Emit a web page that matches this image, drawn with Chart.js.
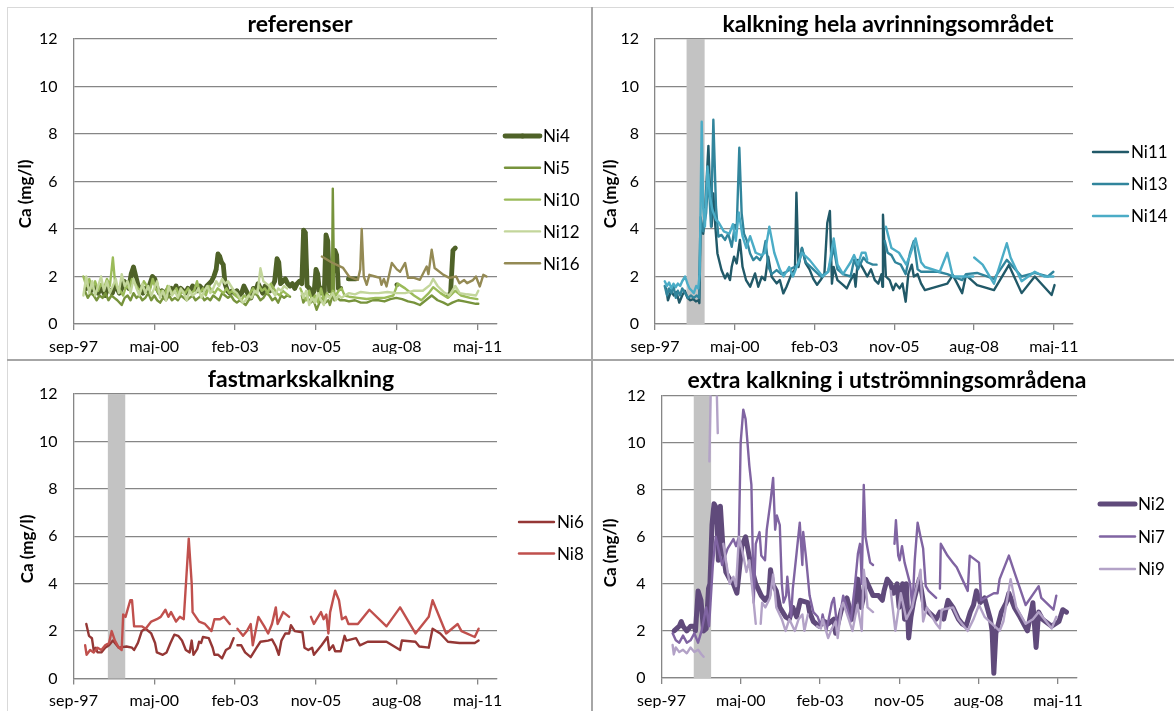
<!DOCTYPE html>
<html>
<head>
<meta charset="utf-8">
<script src="https://cdn.jsdelivr.net/npm/chart.js@4.4.1/dist/chart.umd.min.js"></script>
<style>
  html, body { margin: 0; padding: 0; background: #fff; }
  #wrap { position: relative; width: 1174px; height: 711px; overflow: hidden; background: #fff; }
  #wrap canvas { position: absolute; left: 0; top: 0; }
  .rule { position: absolute; }
</style>
</head>
<body>
<div id="wrap">
  <div class="rule" style="left:7px;top:7px;width:1167px;height:1px;background:#d9d9d9"></div>
  <div class="rule" style="left:7px;top:7px;width:1px;height:704px;background:#d9d9d9"></div>
  <div class="rule" style="left:591px;top:7px;width:2px;height:704px;background:#a6a6a6"></div>
  <div class="rule" style="left:7px;top:359px;width:1167px;height:2px;background:#a6a6a6"></div>
  <canvas id="cRef" width="1174" height="711"></canvas>
  <canvas id="cHela" width="1174" height="711"></canvas>
  <canvas id="cFast" width="1174" height="711"></canvas>
  <canvas id="cExtra" width="1174" height="711"></canvas>
</div>
<script>
// Calcium (mg/l) per station; x = decimal year, [year, null] breaks the line.
const ni4 = [[1998.10,1.5],[1998.18,1.7],[1998.26,1.4],[1998.34,1.6],[1998.42,1.5],[1998.5,1.3],[1998.58,1.5],[1998.66,1.4],[1998.74,1.2],[1998.82,1.5],[1998.9,1.4],[1998.98,1.3],[1999.06,1.6],[1999.14,1.5],[1999.22,1.3],[1999.3,1.5],[1999.38,1.8],[1999.46,1.7],[1999.54,1.5],[1999.62,2.1],[1999.7,2.4],[1999.78,2.0],[1999.86,1.6],[1999.94,1.5],[2000.02,1.3],[2000.1,1.5],[2000.18,1.4],[2000.26,1.7],[2000.34,2.0],[2000.42,1.9],[2000.5,1.5],[2000.58,1.3],[2000.66,1.4],[2000.74,1.2],[2000.82,1.4],[2000.9,1.3],[2000.98,1.5],[2001.06,1.4],[2001.14,1.6],[2001.22,1.3],[2001.3,1.5],[2001.38,1.4],[2001.46,1.3],[2001.54,1.5],[2001.62,1.4],[2001.7,1.6],[2001.78,1.5],[2001.86,1.4],[2001.94,1.6],[2002.02,1.5],[2002.1,1.4],[2002.18,1.6],[2002.26,1.7],[2002.34,1.8],[2002.42,2.0],[2002.5,2.3],[2002.56,2.95],[2002.62,2.85],[2002.68,2.6],[2002.74,2.5],[2002.8,1.7],[2002.88,1.4],[2002.96,1.3],[2003.04,1.4],[2003.12,1.3],[2003.2,1.4],[2003.28,1.2],[2003.36,1.3],[2003.44,1.6],[2003.52,1.4],[2003.6,1.2],[2003.68,1.1],[2003.76,1.5],[2003.84,1.4],[2003.92,1.7],[2004.0,1.5],[2004.08,1.3],[2004.16,1.6],[2004.24,1.5],[2004.32,1.4],[2004.4,1.6],[2004.48,1.8],[2004.56,2.75],[2004.62,2.6],[2004.68,1.7],[2004.76,1.8],[2004.84,1.9],[2004.92,1.7],[2005.0,1.6],[2005.08,1.7],[2005.16,1.5],[2005.24,1.7],[2005.32,1.8],[2005.4,1.7],[2005.46,3.95],[2005.52,3.85],[2005.58,1.6],[2005.66,1.5],[2005.74,1.2],[2005.82,1.4],[2005.88,2.3],[2005.94,2.1],[2006.0,1.3],[2006.08,1.5],[2006.16,1.2],[2006.22,3.75],[2006.28,3.5],[2006.34,1.4],[2006.42,1.8],[2006.52,3.1],[2006.58,2.9],[2006.64,1.5],[2006.72,1.5],[2006.8,null],[2006.98,1.9],[2007.1,1.9],[2007.24,1.9],[2007.3,null],[2008.62,1.65],[2008.7,null],[2010.36,1.2],[2010.44,1.3],[2010.52,3.1],[2010.6,3.2]];
const ni5 = [[1998.05,1.4],[1998.15,1.1],[1998.25,1.3],[1998.35,1.2],[1998.45,1.0],[1998.55,1.2],[1998.65,1.1],[1998.75,1.3],[1998.85,1.0],[1998.95,1.2],[1999.05,1.1],[1999.15,1.0],[1999.3,0.8],[1999.4,1.1],[1999.5,1.2],[1999.6,1.0],[1999.7,1.3],[1999.8,1.1],[1999.9,1.2],[2000.0,1.0],[2000.1,1.1],[2000.2,1.3],[2000.3,1.0],[2000.4,1.2],[2000.5,1.0],[2000.6,0.9],[2000.7,1.1],[2000.8,1.0],[2000.9,1.2],[2001.0,1.0],[2001.1,1.1],[2001.2,1.0],[2001.3,1.2],[2001.4,1.1],[2001.5,1.0],[2001.6,1.1],[2001.7,1.2],[2001.8,1.0],[2001.9,1.1],[2002.0,1.2],[2002.1,1.0],[2002.2,1.1],[2002.3,1.0],[2002.4,1.2],[2002.5,1.1],[2002.6,1.0],[2002.7,1.3],[2002.8,1.2],[2002.9,1.1],[2003.0,1.2],[2003.1,1.0],[2003.2,0.9],[2003.3,1.0],[2003.4,0.9],[2003.5,0.8],[2003.6,1.0],[2003.7,1.1],[2003.8,1.3],[2003.9,1.2],[2004.0,1.0],[2004.1,1.1],[2004.2,1.3],[2004.3,1.2],[2004.4,1.0],[2004.5,1.1],[2004.6,0.9],[2004.7,1.2],[2004.8,1.1],[2004.9,1.2],[2005.0,1.15],[2005.2,null],[2005.4,1.2],[2005.45,0.9],[2005.5,1.0],[2005.6,1.1],[2005.7,0.9],[2005.8,1.0],[2005.9,0.6],[2006.0,0.9],[2006.1,1.1],[2006.2,0.9],[2006.3,1.0],[2006.35,0.8],[2006.42,1.1],[2006.45,5.7],[2006.5,1.0],[2006.6,1.1],[2006.7,1.0],[2006.85,1.0],[2007.0,0.95],[2007.2,1.0],[2007.4,0.9],[2007.6,0.9],[2007.8,1.0],[2008.0,1.0],[2008.2,0.95],[2008.4,1.05],[2008.6,1.1],[2008.8,1.05],[2009.0,0.95],[2009.2,0.9],[2009.4,0.8],[2009.6,1.0],[2009.8,1.2],[2010.0,1.0],[2010.2,0.9],[2010.35,0.8],[2010.5,0.9],[2010.7,1.0],[2010.9,0.95],[2011.1,0.9],[2011.3,0.85],[2011.38,0.85]];
const ni10 = [[1998.0,2.0],[1998.1,1.6],[1998.2,1.9],[1998.3,1.5],[1998.4,1.8],[1998.5,1.4],[1998.6,1.7],[1998.7,1.5],[1998.8,1.9],[1998.9,1.6],[1999.0,2.8],[1999.07,1.8],[1999.15,1.5],[1999.25,1.4],[1999.35,1.2],[1999.45,1.6],[1999.55,1.5],[1999.65,1.9],[1999.75,1.7],[1999.85,1.5],[1999.95,1.4],[2000.05,1.8],[2000.15,1.6],[2000.25,1.4],[2000.35,1.9],[2000.45,1.5],[2000.55,1.3],[2000.65,1.4],[2000.75,1.2],[2000.85,1.6],[2000.95,1.4],[2001.05,1.3],[2001.15,1.5],[2001.25,1.2],[2001.35,1.4],[2001.45,1.3],[2001.55,1.5],[2001.65,1.3],[2001.75,1.4],[2001.85,1.8],[2001.95,1.3],[2002.05,1.5],[2002.15,1.2],[2002.25,1.6],[2002.35,1.4],[2002.45,1.3],[2002.55,1.5],[2002.65,1.4],[2002.75,1.3],[2002.85,1.5],[2002.95,1.3],[2003.05,1.4],[2003.15,1.2],[2003.25,1.1],[2003.35,1.0],[2003.45,1.2],[2003.55,1.1],[2003.65,1.3],[2003.75,1.5],[2003.85,1.3],[2003.95,1.6],[2004.05,1.4],[2004.15,1.5],[2004.25,1.3],[2004.35,1.7],[2004.45,1.5],[2004.55,1.3],[2004.65,1.2],[2004.75,1.4],[2004.85,1.3],[2004.95,1.2],[2005.15,null],[2005.35,1.5],[2005.45,1.2],[2005.55,1.0],[2005.65,1.4],[2005.75,1.0],[2005.85,1.2],[2005.95,0.9],[2006.05,1.5],[2006.15,1.0],[2006.25,1.3],[2006.35,1.1],[2006.45,1.4],[2006.55,1.2],[2006.65,1.4],[2006.75,1.5],[2006.85,1.2],[2007.0,1.15],[2007.3,1.1],[2007.6,1.05],[2007.9,1.1],[2008.2,1.1],[2008.5,1.2],[2008.65,1.7],[2008.9,1.5],[2009.2,1.2],[2009.45,1.0],[2009.7,1.3],[2009.85,1.55],[2010.1,1.3],[2010.35,1.1],[2010.6,1.4],[2010.8,1.2],[2011.1,1.1],[2011.35,1.05]];
const ni12 = [[1998.0,1.2],[1998.1,2.0],[1998.2,1.3],[1998.3,1.8],[1998.4,1.2],[1998.5,1.6],[1998.6,2.0],[1998.7,1.4],[1998.8,1.8],[1998.9,1.3],[1999.0,1.6],[1999.1,1.9],[1999.2,1.3],[1999.3,2.1],[1999.4,1.6],[1999.5,1.8],[1999.6,1.3],[1999.7,1.9],[1999.8,1.5],[1999.9,1.2],[2000.0,1.7],[2000.1,1.3],[2000.2,1.6],[2000.3,1.2],[2000.4,1.5],[2000.5,1.8],[2000.6,1.1],[2000.7,1.4],[2000.8,1.0],[2000.9,1.6],[2001.0,1.2],[2001.1,1.4],[2001.2,1.1],[2001.3,1.5],[2001.4,1.3],[2001.5,1.0],[2001.6,1.4],[2001.7,1.2],[2001.8,1.3],[2001.9,1.5],[2002.0,1.1],[2002.1,1.4],[2002.2,1.6],[2002.3,1.3],[2002.4,1.5],[2002.5,1.8],[2002.6,1.6],[2002.7,1.9],[2002.8,1.7],[2002.9,1.8],[2003.0,1.6],[2003.1,1.4],[2003.2,1.3],[2003.3,1.1],[2003.4,0.9],[2003.5,1.0],[2003.6,1.2],[2003.7,1.1],[2003.8,1.4],[2003.9,1.3],[2004.0,2.35],[2004.1,1.8],[2004.2,1.7],[2004.3,1.6],[2004.4,1.4],[2004.5,1.2],[2004.6,1.5],[2004.7,1.4],[2004.8,1.6],[2004.9,1.5],[2005.15,null],[2005.4,1.3],[2005.45,1.1],[2005.55,1.4],[2005.65,0.8],[2005.75,1.1],[2005.85,0.9],[2005.95,1.3],[2006.05,1.0],[2006.15,0.8],[2006.25,1.2],[2006.35,1.1],[2006.45,1.3],[2006.55,1.0],[2006.65,1.2],[2006.75,1.1],[2006.85,1.2],[2007.0,1.3],[2007.2,1.25],[2007.4,1.35],[2007.7,1.3],[2008.0,1.3],[2008.3,1.35],[2008.6,1.3],[2008.9,1.3],[2009.2,1.4],[2009.5,1.4],[2009.75,1.65],[2009.85,1.9],[2010.0,1.6],[2010.2,1.35],[2010.4,1.2],[2010.6,1.6],[2010.75,1.3],[2011.0,1.25],[2011.3,1.2],[2011.38,1.4]];
const ni16 = [[2006.08,2.84],[2006.4,2.6],[2006.8,2.36],[2007.0,2.0],[2007.2,1.9],[2007.3,1.86],[2007.38,2.3],[2007.43,4.0],[2007.5,2.0],[2007.6,1.65],[2007.69,2.07],[2007.88,2.0],[2008.05,1.94],[2008.1,1.65],[2008.18,1.9],[2008.27,1.58],[2008.45,2.57],[2008.62,2.3],[2008.73,2.2],[2008.9,2.57],[2009.0,1.94],[2009.18,1.95],[2009.4,1.86],[2009.63,2.42],[2009.69,2.1],[2009.8,3.13],[2009.9,2.36],[2010.2,2.07],[2010.4,1.94],[2010.63,2.0],[2010.74,1.72],[2010.9,1.85],[2011.0,1.72],[2011.2,1.85],[2011.3,2.0],[2011.43,1.58],[2011.55,2.07],[2011.66,2.0]];

const ni11 = [[1998.05,1.5],[1998.11,1.0],[1998.22,1.4],[1998.31,1.2],[1998.4,1.35],[1998.5,0.9],[1998.6,1.2],[1998.69,1.4],[1998.78,1.1],[1998.88,1.0],[1998.98,1.05],[1999.07,0.95],[1999.16,1.0],[1999.19,0.88],[1999.23,4.1],[1999.32,3.8],[1999.38,4.66],[1999.5,7.5],[1999.55,5.78],[1999.61,4.1],[1999.67,5.5],[1999.72,4.4],[1999.81,2.97],[1999.95,2.27],[2000.07,1.92],[2000.15,2.13],[2000.24,1.85],[2000.3,2.41],[2000.38,2.83],[2000.47,2.55],[2000.58,3.54],[2000.67,2.41],[2000.79,1.85],[2000.93,1.57],[2001.1,2.13],[2001.21,1.57],[2001.33,1.99],[2001.44,1.85],[2001.55,2.83],[2001.67,1.99],[2001.84,1.71],[2001.95,1.85],[2002.07,1.29],[2002.18,1.57],[2002.36,2.13],[2002.47,2.3],[2002.52,5.53],[2002.59,2.4],[2002.71,3.2],[2002.84,2.55],[2002.97,2.3],[2003.1,1.9],[2003.23,1.65],[2003.35,1.85],[2003.48,2.1],[2003.58,4.25],[2003.67,4.76],[2003.74,1.7],[2003.8,2.4],[2003.93,1.85],[2004.12,1.65],[2004.25,1.5],[2004.38,1.85],[2004.5,2.1],[2004.55,1.57],[2004.63,2.7],[2004.82,2.3],[2004.95,2.0],[2005.08,2.3],[2005.21,1.85],[2005.33,1.7],[2005.44,2.1],[2005.47,1.57],[2005.49,4.6],[2005.59,2.0],[2005.72,1.85],[2005.84,1.43],[2005.93,1.7],[2006.06,1.5],[2006.16,1.7],[2006.27,0.94],[2006.36,2.1],[2006.48,2.5],[2006.55,2.0],[2006.68,2.1],[2006.8,1.7],[2006.93,1.43],[2007.7,1.7],[2007.89,2.06],[2008.21,1.3],[2008.34,2.06],[2008.72,1.64],[2009.3,1.43],[2009.81,2.48],[2010.25,1.3],[2010.7,2.0],[2011.28,1.22],[2011.38,1.64]];
const ni13 = [[1998.0,1.6],[1998.08,1.2],[1998.15,1.5],[1998.23,1.3],[1998.3,1.6],[1998.38,1.1],[1998.45,1.4],[1998.53,1.2],[1998.6,1.5],[1998.7,1.3],[1998.8,1.1],[1998.9,1.2],[1999.0,1.1],[1999.1,1.2],[1999.18,1.1],[1999.23,4.5],[1999.32,3.9],[1999.42,4.66],[1999.5,6.3],[1999.59,4.1],[1999.67,8.6],[1999.76,4.94],[1999.84,3.68],[1999.95,3.75],[2000.07,3.54],[2000.18,3.8],[2000.3,3.25],[2000.41,4.17],[2000.47,4.0],[2000.56,7.42],[2000.64,4.66],[2000.72,3.8],[2000.81,3.54],[2000.93,2.97],[2001.04,2.69],[2001.15,2.83],[2001.27,2.69],[2001.38,2.97],[2001.46,3.5],[2001.56,2.4],[2001.67,2.1],[2001.84,2.27],[2002.0,2.1],[2002.18,2.2],[2002.3,2.3],[2002.45,2.4],[2002.59,2.5],[2002.71,3.2],[2002.84,2.6],[2003.1,2.3],[2003.35,2.0],[2003.61,2.2],[2003.8,3.2],[2003.93,2.3],[2004.12,2.1],[2004.38,2.0],[2004.5,2.7],[2004.63,2.3],[2004.82,2.8],[2004.95,2.6],[2005.14,2.5],[2005.27,2.5],[2005.4,null],[2005.55,3.5],[2005.65,3.0],[2005.78,2.9],[2005.91,2.6],[2006.1,2.5],[2006.27,2.1],[2006.42,3.0],[2006.55,3.5],[2006.68,2.3],[2006.8,2.2],[2006.93,2.2],[2007.38,2.2],[2007.7,2.1],[2008.21,1.85],[2008.34,2.1],[2008.72,2.15],[2009.3,1.9],[2009.74,2.7],[2010.25,2.0],[2010.7,2.15],[2011.15,2.0],[2011.34,2.2]];
const ni14 = [[1998.0,1.8],[1998.08,1.6],[1998.15,1.75],[1998.23,1.5],[1998.3,1.7],[1998.38,1.55],[1998.45,1.7],[1998.53,1.6],[1998.6,1.8],[1998.7,2.0],[1998.78,1.7],[1998.85,1.5],[1998.93,1.4],[1999.0,1.3],[1999.08,1.6],[1999.15,1.5],[1999.2,2.1],[1999.27,8.52],[1999.32,4.9],[1999.38,4.1],[1999.47,6.63],[1999.55,5.37],[1999.64,4.8],[1999.76,4.38],[1999.84,4.3],[2000.03,3.9],[2000.22,3.8],[2000.34,4.2],[2000.44,3.5],[2000.54,4.7],[2000.67,3.7],[2000.8,3.2],[2000.93,3.7],[2001.12,3.0],[2001.31,2.9],[2001.44,3.0],[2001.59,4.1],[2001.76,3.0],[2001.95,2.3],[2002.08,2.0],[2002.27,2.4],[2002.4,2.0],[2002.59,2.6],[2002.71,3.0],[2002.97,2.7],[2003.23,2.3],[2003.42,2.0],[2003.61,2.2],[2003.8,3.6],[2003.93,2.5],[2004.12,2.1],[2004.38,2.6],[2004.5,2.9],[2004.63,2.5],[2004.76,3.0],[2004.89,3.0],[2004.95,2.7],[2005.2,null],[2005.59,4.1],[2005.78,3.2],[2006.04,3.0],[2006.29,2.5],[2006.42,2.9],[2006.61,3.6],[2006.8,2.6],[2006.93,2.4],[2007.44,2.2],[2007.7,3.0],[2007.89,2.0],[2008.59,2.0],[2008.6,null],[2008.62,2.8],[2008.91,2.5],[2009.3,1.7],[2009.74,3.4],[2009.87,2.8],[2010.25,1.8],[2010.7,2.2],[2011.02,2.0],[2011.34,2.0]];

const ni6 = [[1998.1,2.3],[1998.19,1.8],[1998.29,1.7],[1998.35,1.2],[1998.42,1.3],[1998.48,1.1],[1998.61,1.1],[1998.74,1.3],[1998.87,1.4],[1999.0,1.6],[1999.07,1.5],[1999.2,1.3],[1999.46,1.35],[1999.65,1.3],[1999.72,1.2],[1999.85,1.5],[1999.98,2.0],[2000.11,2.1],[2000.3,1.9],[2000.43,1.5],[2000.49,1.1],[2000.69,1.0],[2000.82,1.1],[2000.95,1.5],[2001.08,1.85],[2001.21,1.8],[2001.34,1.6],[2001.47,1.2],[2001.6,1.1],[2001.67,1.6],[2001.73,1.0],[2001.86,1.25],[2001.92,1.55],[2001.99,1.5],[2002.05,1.75],[2002.25,1.7],[2002.38,1.3],[2002.44,1.0],[2002.57,1.0],[2002.7,0.85],[2002.83,1.2],[2002.96,1.3],[2003.09,1.7],[2003.15,null],[2003.22,1.4],[2003.35,1.4],[2003.48,1.1],[2003.67,0.9],[2003.87,1.3],[2004.0,1.55],[2004.26,1.6],[2004.39,1.65],[2004.52,1.35],[2004.62,1.0],[2004.71,1.6],[2004.84,1.9],[2004.97,1.9],[2005.03,2.25],[2005.16,2.0],[2005.42,1.95],[2005.49,1.3],[2005.62,1.2],[2005.75,1.3],[2005.81,1.0],[2005.94,1.2],[2006.07,1.4],[2006.27,1.75],[2006.33,1.2],[2006.46,1.4],[2006.53,1.15],[2006.72,1.15],[2006.85,1.8],[2006.91,1.6],[2007.24,1.7],[2007.37,1.4],[2007.63,1.55],[2008.27,1.55],[2008.73,1.2],[2008.79,1.6],[2009.25,1.55],[2009.38,1.35],[2009.7,1.3],[2009.83,2.1],[2010.09,1.9],[2010.35,1.55],[2010.74,1.5],[2011.26,1.5],[2011.39,1.6]];
const ni8 = [[1998.06,1.4],[1998.11,1.0],[1998.23,1.2],[1998.35,1.1],[1998.48,1.3],[1998.61,1.2],[1998.74,1.4],[1998.87,1.5],[1998.96,2.0],[1999.07,1.6],[1999.2,1.3],[1999.3,1.2],[1999.35,2.7],[1999.43,2.6],[1999.59,3.3],[1999.65,3.3],[1999.72,2.2],[1999.98,2.2],[2000.11,2.1],[2000.3,2.4],[2000.49,2.5],[2000.62,2.6],[2000.78,2.9],[2000.88,2.6],[2000.97,2.8],[2001.14,2.4],[2001.27,2.6],[2001.4,2.5],[2001.57,5.9],[2001.67,4.0],[2001.7,2.8],[2001.92,2.4],[2002.12,2.3],[2002.34,2.0],[2002.44,2.5],[2002.63,2.5],[2002.76,2.6],[2002.96,2.3],[2003.1,null],[2003.22,2.1],[2003.41,1.8],[2003.54,2.0],[2003.67,2.3],[2003.74,1.4],[2003.93,2.6],[2004.13,2.2],[2004.26,1.9],[2004.39,2.3],[2004.52,3.0],[2004.58,2.3],[2004.77,2.8],[2004.97,2.6],[2005.3,null],[2005.71,2.6],[2005.81,2.3],[2006.05,2.8],[2006.14,2.5],[2006.23,2.7],[2006.3,1.9],[2006.36,2.8],[2006.53,3.7],[2006.66,3.3],[2006.76,2.5],[2006.89,2.6],[2006.98,2.3],[2007.3,2.3],[2007.69,2.9],[2008.27,2.2],[2008.73,3.0],[2009.25,1.9],[2009.7,2.6],[2009.83,3.3],[2010.29,1.9],[2010.68,2.3],[2010.81,2.0],[2011.26,1.75],[2011.39,2.1]];

const ni2 = [[1998.1,2.0],[1998.28,2.2],[1998.35,2.4],[1998.41,2.2],[1998.54,2.0],[1998.67,2.2],[1998.8,2.2],[1998.84,2.0],[1998.93,3.7],[1999.03,3.3],[1999.12,2.0],[1999.21,2.1],[1999.29,3.8],[1999.34,4.0],[1999.41,6.5],[1999.48,7.4],[1999.57,7.2],[1999.63,5.0],[1999.7,7.3],[1999.8,5.3],[1999.89,4.5],[2000.02,4.2],[2000.15,4.0],[2000.27,3.6],[2000.44,5.6],[2000.57,6.0],[2000.66,5.4],[2000.75,4.8],[2000.92,4.0],[2001.11,3.5],[2001.24,3.3],[2001.37,3.5],[2001.43,4.6],[2001.5,4.0],[2001.63,3.7],[2001.75,3.0],[2001.95,2.6],[2002.08,2.5],[2002.2,3.0],[2002.33,2.6],[2002.46,3.3],[2002.72,3.2],[2002.78,2.8],[2002.91,2.4],[2003.1,2.2],[2003.3,2.4],[2003.42,2.3],[2003.62,2.5],[2003.68,1.9],[2003.88,2.9],[2004.07,3.4],[2004.26,2.5],[2004.35,3.1],[2004.45,4.2],[2004.56,3.0],[2004.65,3.5],[2004.71,4.2],[2004.97,3.5],[2005.16,3.5],[2005.29,3.3],[2005.35,3.7],[2005.46,4.2],[2005.58,4.0],[2005.67,3.6],[2005.8,4.0],[2005.87,3.0],[2005.99,4.0],[2006.06,2.5],[2006.12,4.0],[2006.2,1.7],[2006.28,2.6],[2006.38,3.3],[2006.57,4.2],[2006.63,3.8],[2006.74,3.0],[2006.89,2.8],[2007.15,2.5],[2007.28,2.8],[2007.41,2.5],[2007.56,3.3],[2007.73,3.0],[2007.92,2.5],[2008.05,2.3],[2008.18,2.2],[2008.33,2.8],[2008.44,3.1],[2008.54,3.7],[2008.67,3.2],[2008.82,3.4],[2009.02,2.5],[2009.08,2.0],[2009.14,0.2],[2009.21,1.9],[2009.4,2.8],[2009.57,3.2],[2009.66,3.6],[2009.85,3.0],[2010.04,2.6],[2010.3,2.0],[2010.49,3.2],[2010.6,1.3],[2010.69,2.8],[2010.82,2.5],[2011.14,2.2],[2011.39,2.4],[2011.52,2.9],[2011.65,2.8]];
const ni7 = [[1998.05,1.9],[1998.16,1.6],[1998.28,1.5],[1998.41,1.8],[1998.54,1.5],[1998.67,1.6],[1998.8,1.9],[1998.93,1.5],[1999.05,2.0],[1999.21,3.0],[1999.31,2.2],[1999.44,4.8],[1999.54,6.0],[1999.63,5.5],[1999.76,4.8],[1999.95,5.5],[2000.15,5.9],[2000.24,5.6],[2000.34,6.0],[2000.4,10.0],[2000.49,11.4],[2000.57,11.0],[2000.7,9.0],[2000.77,8.2],[2000.85,3.2],[2000.92,5.7],[2001.05,6.2],[2001.11,5.2],[2001.24,5.0],[2001.3,6.3],[2001.43,7.5],[2001.52,8.5],[2001.59,6.3],[2001.65,6.9],[2001.75,6.5],[2001.82,4.0],[2001.88,3.2],[2001.97,3.5],[2002.01,4.3],[2002.14,2.6],[2002.2,3.8],[2002.33,5.3],[2002.44,6.6],[2002.53,4.8],[2002.56,6.2],[2002.65,5.2],[2002.78,3.5],[2002.91,2.8],[2003.06,2.6],[2003.17,2.2],[2003.23,2.7],[2003.36,2.0],[2003.55,3.2],[2003.62,3.4],[2003.75,2.0],[2003.94,3.5],[2004.07,3.0],[2004.2,2.4],[2004.35,4.0],[2004.45,5.3],[2004.52,5.7],[2004.56,4.7],[2004.58,4.0],[2004.65,8.2],[2004.71,6.0],[2004.78,5.5],[2004.87,4.9],[2004.97,4.8],[2005.3,null],[2005.71,5.7],[2005.76,6.7],[2005.84,5.2],[2005.89,5.0],[2005.97,5.6],[2006.06,4.9],[2006.25,4.0],[2006.33,3.0],[2006.41,5.0],[2006.51,6.6],[2006.61,6.0],[2006.7,5.5],[2006.79,3.9],[2006.89,3.7],[2007.15,3.4],[2007.22,null],[2007.28,3.8],[2007.31,5.7],[2007.54,5.2],[2007.73,4.9],[2007.86,4.7],[2008.05,4.2],[2008.24,3.7],[2008.31,5.2],[2008.63,4.9],[2008.7,3.3],[2009.14,3.6],[2009.27,3.6],[2009.34,4.2],[2009.66,5.2],[2009.85,4.5],[2010.24,3.1],[2010.69,3.9],[2010.78,3.4],[2011.2,2.9],[2011.3,3.5]];
const ni9 = [[1998.05,1.4],[1998.09,1.0],[1998.16,1.3],[1998.28,1.1],[1998.41,1.2],[1998.54,1.05],[1998.67,1.3],[1998.8,1.1],[1998.93,1.2],[1999.05,1.0],[1999.12,0.9],[1999.2,null],[1999.32,9.2],[1999.38,13],[1999.5,14],[1999.56,13],[1999.61,10.4],[1999.7,null],[1999.8,5.7],[1999.89,5.0],[2000.02,4.0],[2000.15,4.3],[2000.24,3.9],[2000.34,6.0],[2000.44,5.5],[2000.6,4.5],[2000.7,5.0],[2000.79,3.9],[2000.85,3.2],[2000.92,2.3],[2001.0,null],[2001.09,2.3],[2001.14,3.2],[2001.25,3.0],[2001.41,3.4],[2001.52,4.4],[2001.63,3.0],[2001.82,2.5],[2001.95,2.0],[2002.08,2.5],[2002.27,2.0],[2002.4,2.5],[2002.53,2.7],[2002.6,2.0],[2002.72,2.7],[2002.8,null],[2003.04,2.2],[2003.17,2.1],[2003.23,2.5],[2003.42,1.7],[2003.55,2.1],[2003.68,2.4],[2003.75,1.7],[2003.88,3.0],[2003.94,3.2],[2004.13,2.5],[2004.26,2.0],[2004.43,3.1],[2004.58,2.0],[2004.65,4.6],[2004.71,4.0],[2004.78,3.0],[2004.97,2.8],[2005.2,null],[2005.58,3.7],[2005.74,2.0],[2005.93,3.6],[2006.12,2.5],[2006.32,3.0],[2006.61,4.6],[2006.7,2.4],[2006.83,3.0],[2007.15,2.3],[2007.28,2.1],[2007.34,2.9],[2007.73,3.0],[2007.92,2.5],[2008.24,2.0],[2008.44,2.5],[2008.63,3.1],[2008.82,2.6],[2009.34,2.0],[2009.47,2.4],[2009.72,4.2],[2009.92,3.0],[2010.24,2.3],[2010.49,2.5],[2010.69,2.8],[2011.14,2.1],[2011.3,2.6]];

// Liming periods (decimal years) shown as shaded bands
const bandHela = [1998.75, 1999.37];
const bandFast = [1998.83, 1999.42];
const bandExtra = [1998.78, 1999.38];

// Axis setup: ticks every 1000 days from 1 Sep 1997
const AXIS_START = Date.UTC(1997, 8, 1);
const DAY_MS = 86400000;
const tickDays = [0, 1000, 2000, 3000, 4000, 5000];
const axisMaxDays = 5240;
const monthNames = ['jan','feb','mar','apr','maj','jun','jul','aug','sep','okt','nov','dec'];
const yTicks = [0, 2, 4, 6, 8, 10, 12];

function yearToDays(yr) {
  const y = Math.floor(yr);
  const start = Date.UTC(y, 0, 1), end = Date.UTC(y + 1, 0, 1);
  return (start + (yr - y) * (end - start) - AXIS_START) / DAY_MS;
}
function dayLabel(v) {
  const d = new Date(AXIS_START + v * DAY_MS);
  return monthNames[d.getUTCMonth()] + '-' + String(d.getUTCFullYear() % 100).padStart(2, '0');
}
function toPoints(arr) {
  return arr.map(p => ({ x: yearToDays(p[0]), y: p[1] }));
}

const FONT = 'Lato, "Open Sans", sans-serif';
const GRID = '#868686';

const panelText = {
  id: 'panelText',
  beforeDatasetsDraw(chart, args, o) {
    if (!o.band) return;
    const { ctx, chartArea, scales } = chart;
    const x0 = scales.x.getPixelForValue(yearToDays(o.band[0]));
    const x1 = scales.x.getPixelForValue(yearToDays(o.band[1]));
    ctx.save();
    ctx.fillStyle = '#c3c3c3';
    ctx.fillRect(x0, chartArea.top, x1 - x0, chartArea.bottom - chartArea.top);
    ctx.restore();
  },
  afterDraw(chart, args, o) {
    const ctx = chart.ctx;
    ctx.save();
    ctx.fillStyle = '#000';
    ctx.textAlign = 'center';
    ctx.textBaseline = 'middle';
    ctx.font = 'bold 23px ' + FONT;
    ctx.fillText(o.title, o.titleX, o.titleY);
    ctx.save();
    ctx.translate(o.yTitleX, o.yTitleY);
    ctx.rotate(-Math.PI / 2);
    ctx.font = 'bold 17px ' + FONT;
    ctx.fillText('Ca (mg/l)', 0, 0);
    ctx.restore();
    ctx.textAlign = 'left';
    ctx.font = '17px ' + FONT;
    chart.data.datasets.forEach((ds, i) => {
      const y = o.legendY + i * o.legendStep;
      ctx.strokeStyle = ds.borderColor;
      ctx.lineWidth = ds.borderWidth;
      ctx.lineCap = 'round';
      ctx.beginPath();
      ctx.moveTo(o.legendX, y);
      ctx.lineTo(o.legendX + 35, y);
      ctx.stroke();
      if (ds.pointRadius > 0) {
        ctx.fillStyle = ds.borderColor;
        ctx.beginPath();
        ctx.arc(o.legendX + 17.5, y, ds.pointRadius + 0.5, 0, Math.PI * 2);
        ctx.fill();
      }
      ctx.fillStyle = '#000';
      ctx.fillText(ds.label, o.legendX + 38, y + 1);
    });
    ctx.restore();
  }
};

function makePanel(id, p) {
  const n = p.series.length;
  new Chart(document.getElementById(id), {
    type: 'line',
    data: {
      datasets: p.series.map((s, i) => ({
        label: s.name,
        data: toPoints(s.data),
        borderColor: s.color,
        backgroundColor: s.color,
        borderWidth: s.width,
        pointRadius: s.points || 0,
        pointHoverRadius: 0,
        pointBorderWidth: 0,
        borderJoinStyle: 'round',
        borderCapStyle: 'round',
        tension: 0,
        spanGaps: false,
        clip: 0,
        order: n - i
      }))
    },
    options: {
      responsive: false,
      animation: false,
      events: [],
      layout: {
        padding: {
          left: p.area.left - 40,
          top: p.area.top,
          right: 1174 - p.area.right,
          bottom: 711 - p.area.bottom - 30
        }
      },
      scales: {
        x: {
          type: 'linear',
          min: 0,
          max: axisMaxDays,
          afterBuildTicks: s => { s.ticks = tickDays.map(v => ({ value: v })); },
          afterFit: s => { s.height = 30; },
          ticks: {
            callback: v => dayLabel(v),
            font: { family: FONT, size: 16 },
            color: '#000',
            padding: 7,
            maxRotation: 0,
            autoSkip: false
          },
          grid: { drawOnChartArea: false, drawTicks: true, tickLength: 6, color: GRID, lineWidth: 1.3 },
          border: { display: true, color: GRID, width: 1.3 }
        },
        y: {
          min: 0,
          max: 12,
          afterBuildTicks: s => { s.ticks = yTicks.map(v => ({ value: v })); },
          afterFit: s => { s.width = 40; },
          ticks: {
            font: { family: FONT, size: 16 },
            color: '#000',
            padding: 16
          },
          grid: { drawTicks: false, color: GRID, lineWidth: 1.3 },
          border: { display: true, color: GRID, width: 1.3 }
        }
      },
      plugins: {
        legend: { display: false },
        tooltip: { enabled: false },
        panelText: p.text
      }
    },
    plugins: [panelText]
  });
}

makePanel('cRef', {
  area: { left: 73.5, top: 39, right: 497, bottom: 324 },
  series: [
    { name: 'Ni4', data: ni4, color: '#4f6228', width: 4.8, points: 2 },
    { name: 'Ni5', data: ni5, color: '#77933c', width: 2.4 },
    { name: 'Ni10', data: ni10, color: '#9bbb59', width: 2.4 },
    { name: 'Ni12', data: ni12, color: '#c3d69b', width: 2.4 },
    { name: 'Ni16', data: ni16, color: '#948a54', width: 2.4 }
  ],
  text: { title: 'referenser', titleX: 300, titleY: 25, yTitleX: 26, yTitleY: 194,
          legendX: 505, legendY: 136, legendStep: 31.8, band: null }
});

makePanel('cHela', {
  area: { left: 655, top: 39, right: 1073, bottom: 324 },
  series: [
    { name: 'Ni11', data: ni11, color: '#215968', width: 2.4 },
    { name: 'Ni13', data: ni13, color: '#31859c', width: 2.4 },
    { name: 'Ni14', data: ni14, color: '#4bacc6', width: 2.4 }
  ],
  text: { title: 'kalkning hela avrinningsområdet', titleX: 888, titleY: 25, yTitleX: 611, yTitleY: 194,
          legendX: 1093, legendY: 152, legendStep: 32, band: bandHela }
});

makePanel('cFast', {
  area: { left: 73.5, top: 394, right: 497, bottom: 678.5 },
  series: [
    { name: 'Ni6', data: ni6, color: '#953735', width: 2.4 },
    { name: 'Ni8', data: ni8, color: '#c0504d', width: 2.4 }
  ],
  text: { title: 'fastmarkskalkning', titleX: 301, titleY: 380, yTitleX: 28, yTitleY: 549,
          legendX: 519, legendY: 522, legendStep: 31.5, band: bandFast }
});

makePanel('cExtra', {
  area: { left: 661.5, top: 395.5, right: 1077, bottom: 678 },
  series: [
    { name: 'Ni2', data: ni2, color: '#604a7b', width: 5 },
    { name: 'Ni7', data: ni7, color: '#8064a2', width: 2.4 },
    { name: 'Ni9', data: ni9, color: '#b3a2c7', width: 2.4 }
  ],
  text: { title: 'extra kalkning i utströmningsområdena', titleX: 887, titleY: 381, yTitleX: 611, yTitleY: 553,
          legendX: 1100, legendY: 504, legendStep: 32.5, band: bandExtra }
});
</script>
</body>
</html>
